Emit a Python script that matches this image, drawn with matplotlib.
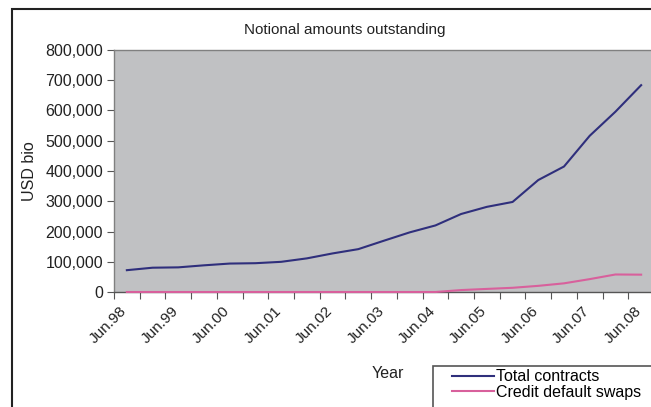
#!/usr/bin/env python3
"""Notional amounts outstanding - OTC derivatives, total vs CDS (USD bn)."""
import matplotlib
matplotlib.use("Agg")
import matplotlib.pyplot as plt
import matplotlib.transforms as mtrans
from matplotlib.patches import Rectangle
from matplotlib.ticker import FuncFormatter

plt.rcParams["font.family"] = ["Liberation Sans", "DejaVu Sans"]

# semi-annual observations, Jun.98 .. Jun.08
periods = ["Jun.98", "Dec.98", "Jun.99", "Dec.99", "Jun.00", "Dec.00", "Jun.01",
           "Dec.01", "Jun.02", "Dec.02", "Jun.03", "Dec.03", "Jun.04", "Dec.04",
           "Jun.05", "Dec.05", "Jun.06", "Dec.06", "Jun.07", "Dec.07", "Jun.08"]
total_contracts = [72134, 80309, 81458, 88202, 94008, 95199, 99755, 111178,
                   127509, 141665, 169658, 197167, 220058, 257894, 281493,
                   297670, 370178, 414845, 516407, 596004, 683725]
cds = [0, 0, 0, 0, 0, 0, 0, 0, 0, 0, 0, 0, 0, 6396, 10211, 13908, 20352,
       28650, 42580, 57894, 57325]
yticks = list(range(0, 800001, 100000))

W, H = 651, 407
fig = plt.figure(figsize=(W / 100, H / 100), dpi=100)
fig.patch.set_facecolor("white")

def px(x0, y0, x1, y1):
    # pixel box (top-left origin) -> figure fraction [l, b, w, h]
    return [x0 / W, 1 - y1 / H, (x1 - x0) / W, (y1 - y0) / H]

ax = fig.add_axes(px(114, 50, 654, 292))
ax.set_facecolor("#c0c1c3")

xs = list(range(len(periods)))
ax.plot(xs, total_contracts, color="#2f2f7c", lw=1.5, label="Total contracts",
        zorder=3, clip_on=False)
ax.plot(xs, cds, color="#d8609c", lw=1.5, label="Credit default swaps",
        zorder=3, clip_on=False)

ax.set_xlim(-0.5, len(periods) - 0.5)
ax.set_ylim(0, 800000)
ax.set_yticks(yticks)
ax.yaxis.set_major_formatter(FuncFormatter(lambda v, p: f"{int(v):,}"))

# ticks between categories, labels on every other June
ax.set_xticks([i - 0.5 for i in range(len(periods) + 1)])
ax.set_xticklabels([])
ax.set_xticks(xs[::2], minor=True)
ax.set_xticklabels(periods[::2], minor=True, rotation=45, ha="right",
                   rotation_mode="anchor", fontsize=11, color="#222222")
ax.tick_params(axis="x", which="minor", length=0, pad=7)
ax.tick_params(axis="x", which="major", length=5, color="#555555", direction="out")
ax.tick_params(axis="y", length=5, color="#555555", labelsize=11.5,
               labelcolor="#222222", pad=3)
shift = mtrans.ScaledTranslation(-7 / 100, -2 / 100, fig.dpi_scale_trans)
for lab in ax.get_xticklabels(minor=True):
    lab.set_transform(lab.get_transform() + shift)

for s in ax.spines.values():
    s.set_color("#808080")
    s.set_linewidth(1.0)
ax.spines["bottom"].set_color("#555555")

fig.text(345 / W, 1 - 30 / H, "Notional amounts outstanding", ha="center",
         va="center", fontsize=11, color="#222222")
fig.text(30 / W, 1 - 171 / H, "USD bio", rotation=90, ha="center", va="center",
         fontsize=11.5, color="#222222")
fig.text(388 / W, 1 - 374 / H, "Year", ha="center", va="center",
         fontsize=11.5, color="#222222")

# outer chart frame (cut off on right/bottom in the original)
fig.patches.append(Rectangle((12 / W, -0.1), 1.2, 1 - 9 / H + 0.1,
                             transform=fig.transFigure, fill=False,
                             edgecolor="#222222", lw=1.5))
# legend box, also running off the edge
fig.patches.append(Rectangle((433 / W, -0.1), 1.0, 1 - 366 / H + 0.1,
                             transform=fig.transFigure, fill=False,
                             edgecolor="#555555", lw=1.2))
fig.legend(loc="upper left", bbox_to_anchor=(449 / W, 1 - 366 / H),
           frameon=False, fontsize=11.5, handlelength=2.6, handletextpad=0.15,
           labelspacing=0.05, borderpad=0.2, borderaxespad=0)

fig.savefig("out.png", dpi=100)
